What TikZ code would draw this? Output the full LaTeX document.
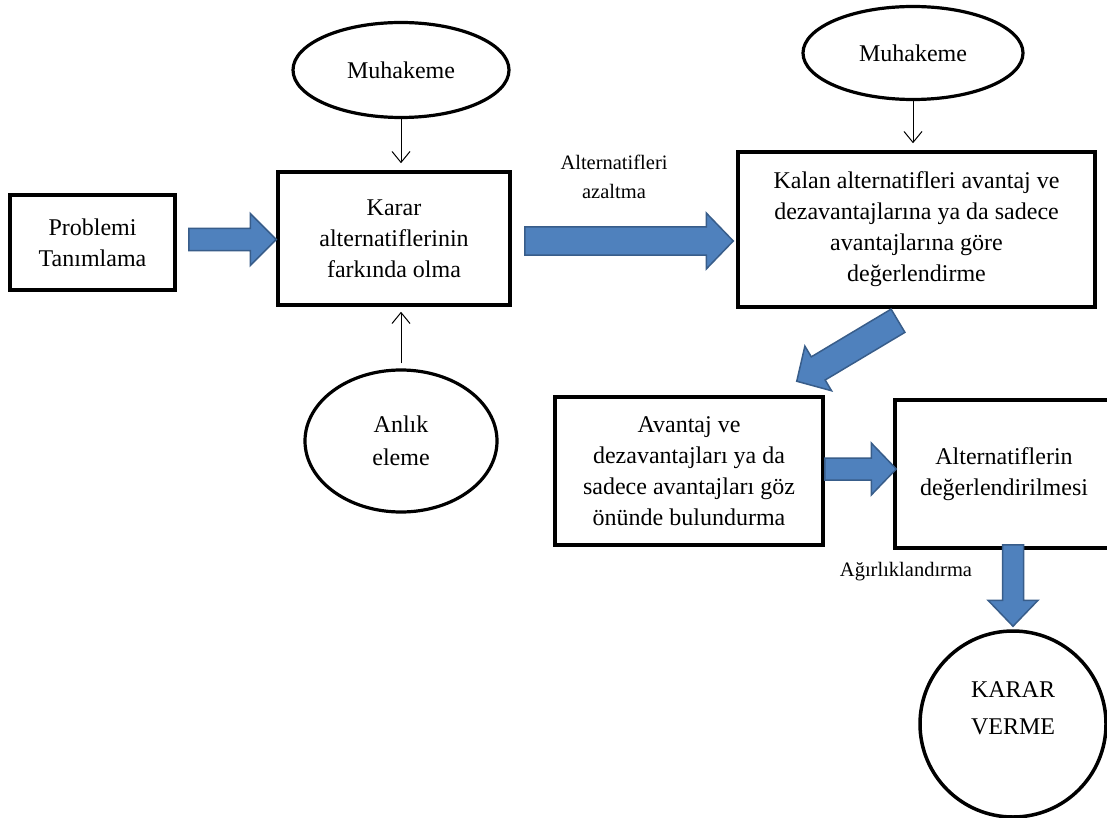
\documentclass[tikz,border=0pt]{standalone}
\usepackage{fontspec}
\setmainfont{Liberation Serif}
\usetikzlibrary{arrows.meta,calc,shapes.geometric}
\definecolor{arrowfill}{RGB}{79,129,189}
\definecolor{arrowline}{RGB}{56,93,138}
% #1 start, #2 tip, #3 shaft half width, #4 head half width, #5 head length
\newcommand\blockarrow[5]{%
  \coordinate (ba-s) at (#1);
  \coordinate (ba-e) at (#2);
  \coordinate (ba-h) at ($(ba-e)!#5!(ba-s)$);
  \draw[barrow] ($(ba-s)!#3!90:(ba-e)$) -- ($(ba-h)!#3!-90:(ba-s)$)
    -- ($(ba-h)!#4!-90:(ba-s)$) -- (ba-e) -- ($(ba-h)!#4!90:(ba-s)$)
    -- ($(ba-h)!#3!90:(ba-s)$) -- ($(ba-s)!#3!-90:(ba-e)$) -- cycle;
}
\begin{document}
\begin{tikzpicture}[x=1pt,y=-1pt,
  box/.style={draw, line width=3.5pt, rectangle, align=center, inner sep=0pt,
    font=\fontsize{24}{31}\selectfont},
  oval/.style={draw, line width=3.2pt, ellipse, inner sep=0pt, align=center,
    font=\fontsize{24}{33}\selectfont},
  thinarrow/.style={line width=1pt, -{Straight Barb[length=11pt,width=18pt]}},
  lbl/.style={font=\fontsize{20.5}{29}\selectfont, align=center},
  barrow/.style={fill=arrowfill, draw=arrowline, line width=1.5pt, line join=miter}]
\clip (0,0) rectangle (1107,818);
\fill[white] (0,0) rectangle (1107,818);

% boxes
\node[box, minimum width=165pt, minimum height=95pt] (prob) at (92.5,242.5) {Problemi\\Tanımlama};
\node[box, minimum width=232pt, minimum height=133pt] (karar) at (394,238.5) {Karar\\alternatiflerinin\\farkında olma};
\node[box, minimum width=357pt, minimum height=155pt] (kalan) at (916.5,229.5) {Kalan alternatifleri avantaj ve\\dezavantajlarına ya da sadece\\avantajlarına göre\\değerlendirme};
\node[box, minimum width=268pt, minimum height=148pt] (avantaj) at (689,471) {Avantaj ve\\dezavantajları ya da\\sadece avantajları göz\\önünde bulundurma};
\node[box, minimum width=218pt, minimum height=148pt] (altdeg) at (1004,474) {Alternatiflerin\\değerlendirilmesi};

% ellipses
\node[oval, minimum width=216pt, minimum height=95pt] (muh1) at (401,70) {Muhakeme};
\node[oval, minimum width=220pt, minimum height=93pt] (muh2) at (913,53) {Muhakeme};
\node[oval, minimum width=192pt, minimum height=142pt] (anlik) at (401,441) {Anlık\\eleme};
\node[draw, circle, line width=3.5pt, minimum size=186pt, inner sep=0pt] (verme) at (1013,724) {};
\node[align=center, font=\fontsize{24}{37}\selectfont] (vermetxt) at ($(verme.center)+(0,-16)$) {KARAR\\VERME};

% labels
\node[lbl] (lab1) at (614,177) {Alternatifleri\\azaltma};
\node[lbl] (lab2) at (906,572) {Ağırlıklandırma};

% thin arrows
\draw[thinarrow, shorten >=7pt] (muh1.south) -- (muh1.south |- karar.north);
\draw[thinarrow, shorten >=7pt] (muh2.south) -- (muh2.south |- kalan.north);
\draw[thinarrow, shorten <=5pt, shorten >=5pt] (anlik.north) -- (anlik.north |- karar.south);

% block arrows
\coordinate (a1s) at ($(prob.east)+(12,-3)$);
\coordinate (a1e) at (karar.west |- a1s);
\blockarrow{a1s}{a1e}{11pt}{26pt}{26pt}
\coordinate (a2s) at ($(karar.east)+(13,2.5)$);
\coordinate (a2e) at ($(kalan.west |- a2s)+(-3,0)$);
\blockarrow{a2s}{a2e}{14pt}{28pt}{27pt}
\coordinate (a3s) at ($(kalan.south)+(-18.5,12)$);
\coordinate (a3e) at ($(avantaj.north east)+(-28,-14)$);
\blockarrow{a3s}{a3e}{13.5pt}{26pt}{25pt}
\coordinate (a4s) at ($(avantaj.east)+(0,-2)$);
\coordinate (a4e) at ($(altdeg.west |- a4s)+(3,0)$);
\blockarrow{a4s}{a4e}{11pt}{26pt}{25pt}
\coordinate (a5s) at ($(verme.north |- altdeg.south)+(0,-5)$);
\coordinate (a5e) at ($(verme.north)+(0,-3)$);
\blockarrow{a5s}{a5e}{10.5pt}{25pt}{26pt}
\end{tikzpicture}
\end{document}
